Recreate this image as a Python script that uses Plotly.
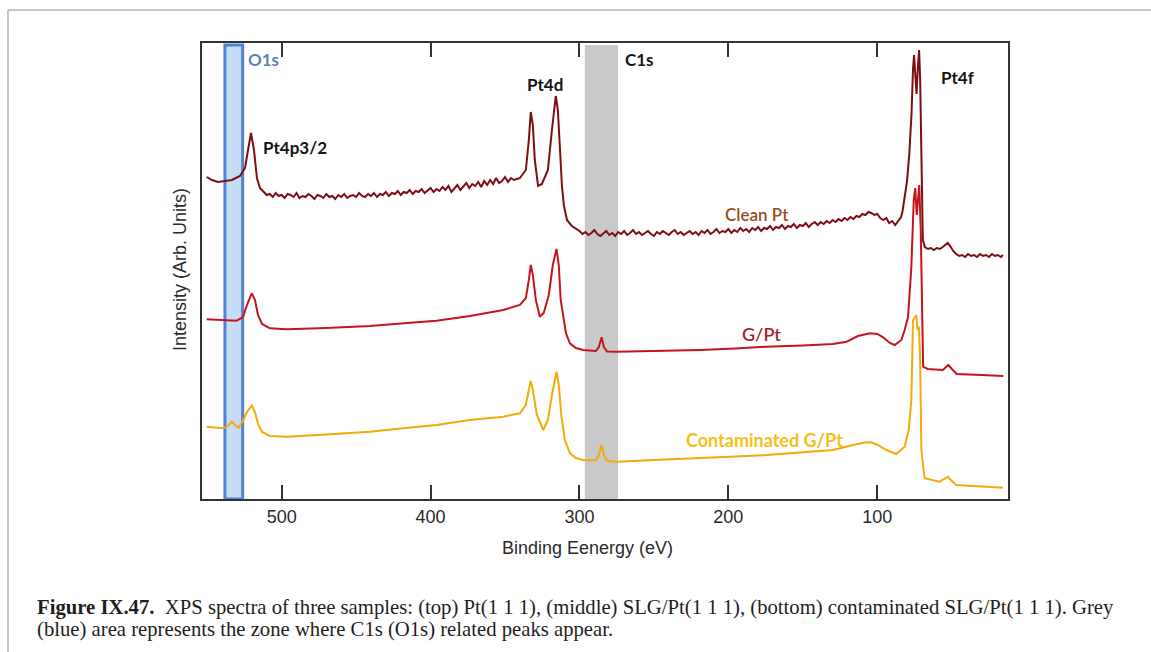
import plotly.graph_objects as go

# ---------------- data ----------------
clean_E = [550.4, 546.8, 542.8, 538.1, 533.4, 528.0, 524.6, 522.6, 520.6, 518.6, 516.6, 514.6,
           512, 510, 508, 506, 504, 502, 500, 498, 496, 494, 492, 490, 488, 486, 484, 482, 480, 478,
           476, 474, 472, 470, 468, 466, 464, 462, 460, 458, 456, 454, 452, 450, 448, 446, 444, 442,
           440, 438, 436, 434, 432, 430, 428, 426, 424, 422, 420, 418, 416, 414, 412, 410, 408, 406,
           404, 402, 400, 398, 396, 394, 392, 390, 388, 386, 384, 382, 380, 378, 376, 374, 372, 370,
           368, 366, 364, 362, 360, 358, 356, 354, 352, 350, 348, 346, 344, 342,
           340, 336, 334, 332.7, 331.3, 330, 327.8, 325.2, 321.2, 318.5, 315.9, 314.5, 313.2, 311.8,
           310.5, 308.4, 305.1, 302,
           300, 298, 296, 294, 292, 290, 288, 286, 284, 282, 280, 278, 276, 274, 272, 270, 268, 266,
           264, 262, 260, 258, 256, 254, 252, 250, 248, 246, 244, 242, 240, 238, 236, 234, 232, 230,
           228, 226, 224, 222, 220, 218, 216, 214, 212, 210, 208, 206, 204, 202, 200, 198, 196, 194,
           192, 190, 188, 186, 184, 182, 180, 178, 176, 174, 172, 170, 168, 166, 164, 162, 160, 158,
           156, 154, 152, 150, 148, 146, 144, 142, 140, 138, 136, 134, 132, 130, 128, 126, 124, 122,
           120, 118, 116, 114, 112, 110, 108, 106, 104, 102, 100, 98, 96, 94, 92, 90, 88, 86, 84, 83,
           81.5, 80, 78.5, 77, 76, 75.3, 74.5, 73.6, 72.8, 71.9, 71.2, 70.3, 69.4,
           68, 66, 64, 62, 60, 58, 56, 54, 52.7, 51, 49, 47, 45, 43, 41, 39, 37, 35, 33, 31, 29, 27,
           25, 23, 21, 19, 17, 15.6]
clean_I = [322, 319, 317, 318, 319, 323, 331, 349, 366, 349, 321, 311,
           307, 304, 305, 302, 306, 303, 304, 301, 305, 304, 302, 306, 301, 303, 302, 305, 303, 300,
           304, 303, 301, 305, 302, 303, 300, 304, 302, 305, 301, 303, 304, 302, 306, 303, 302, 305,
           303, 306, 302, 305, 304, 307, 303, 306, 305, 308, 304, 307, 306, 309, 305, 308, 307, 310,
           306, 309, 311, 307, 310, 308, 312, 309, 313, 307, 311, 314, 309, 313, 316, 311, 315, 313,
           317, 312, 318, 314, 319, 315, 321, 316, 318, 322, 317, 321, 319, 320,
           321, 329, 359, 387, 374, 339, 313, 315, 329, 369, 403, 389, 349, 314,
           294, 279, 273, 270,
           268, 265, 267, 264, 266, 269, 265, 263, 266, 268, 264, 266, 263, 267, 265, 268, 264, 266,
           269, 265, 267, 264, 266, 268, 265, 263, 267, 265, 268, 266, 264, 267, 269, 265, 267, 264,
           266, 268, 265, 267, 264, 268, 266, 269, 265, 267, 270, 266, 268, 267, 270, 266, 269, 267,
           271, 268, 270, 267, 271, 269, 272, 268, 271, 270, 273, 269, 272, 271, 274, 270, 273, 272,
           275, 271, 274, 273, 276, 272, 275, 277, 274, 277, 275, 278, 276, 279, 277, 280, 278, 281,
           279, 282, 280, 283, 282, 285, 284, 287, 286, 284, 285, 281, 279, 281, 276, 278, 274, 278, 282, 288,
           302, 318, 345, 385, 430, 444, 425, 405, 430, 449, 420, 349, 259,
           252, 250, 251, 249, 251, 250, 252, 254, 256, 253, 248, 245, 243, 244, 242, 245, 243, 244,
           242, 245, 243, 244, 242, 245, 243, 244, 242, 244]

gpt_E = [550.4, 540.0, 530.2, 526.0, 523.3, 520.1, 517.9, 515.9, 513.2, 507.9, 496.6, 470.0,
         440.7, 420.0, 396.0, 373.6, 351.2, 340.0, 336.0, 334.0, 332.7, 331.3, 329.3, 326.6, 324.0,
         320.6, 317.9, 315.4, 313.9, 312.6, 311.0, 309.1, 306.4, 302.4, 297.5, 289.0, 287.0, 285.1,
         283.6, 281.5, 275.0, 250.0, 219.1, 195.0, 174.3, 150.0, 129.9, 120.6, 113.0, 105.0, 99.8,
         96.1, 91.6, 88.3, 83.8, 81.6, 79.3, 77.1, 75.5, 74.5, 73.5, 71.8, 70.8, 69.2, 66.1, 56.0,
         52.3, 49.9, 46.7, 30.0, 15.4]
gpt_I = [179.7, 179.0, 178.3, 182, 194, 205.7, 199, 184, 175, 170.7, 169.7, 171,
         173, 175.5, 178.3, 183, 189, 194, 201, 219, 234, 224, 199, 182.3, 186,
         204, 234, 250, 234, 199, 182.3, 166, 155.7, 151, 149, 148, 152, 161.7,
         152, 147.5, 147.3, 148, 149, 150.5, 152.3, 153.5, 155, 157.3, 163, 165.7, 165,
         161.7, 156, 154, 159, 169, 182.3, 232.3, 299, 311, 284, 314, 269, 132.3, 130, 129,
         134, 130, 125, 124, 123]

cont_E = [550.4, 539.2, 536.0, 533.5, 531.3, 529.1, 526.0, 523.3, 520.1, 517.9, 515.9, 513.2,
          507.9, 496.6, 470.0, 440.7, 420.0, 396.0, 373.6, 351.2, 340.0, 336.0, 334.0, 332.7, 331.3,
          328.6, 324.3, 321.2, 318.5, 315.4, 313.9, 312.1, 309.8, 306.4, 302.4, 297.5, 289.0, 287.0,
          285.1, 283.6, 281.5, 275.0, 250.0, 219.1, 195.0, 174.3, 150.0, 129.7, 116.3, 108.4, 103.9,
          99.7, 93.9, 87.2, 81.6, 78.9, 77.1, 76.0, 74.9, 73.8, 72.9, 72.0, 71.2, 70.4, 68.2, 58.1,
          52.5, 50.0, 46.8, 30.0, 15.6]
cont_I = [72.3, 70.7, 73, 77.3, 74, 71.3, 78, 87, 93.3, 87, 75, 67,
          63, 62.3, 64.5, 67.3, 70.5, 74, 79, 82.3, 85.7, 94, 109, 118, 109,
          84, 69, 79, 104, 127.3, 114, 82.3, 59, 45.7, 41, 39, 38.5, 44,
          54, 44, 38.3, 37.3, 39, 40.7, 42.5, 44, 46.5, 49, 54, 56.5, 56.7,
          54, 49, 45, 52.3, 69, 99, 179, 181, 184, 169, 172.3, 139, 49, 20.7, 17.3,
          22.3, 18, 14, 12.5, 11.3]

series_names = ["Clean Pt", "G/Pt", "Contaminated G/Pt"]
x_ticks = [500, 400, 300, 200, 100]
o1s_band = [538.1, 526.2]
c1s_band = [296.4, 274.1]
peak_labels = ["O1s", "Pt4p3/2", "Pt4d", "C1s", "Pt4f"]

# ---------------- layout geometry ----------------
W, H = 1151, 652
L, R, T, B = 202, 1008, 43, 499
X_RANGE = [553.5, 12.2]
Y_RANGE = [0, 456]


def px(x):
    return (x - L) / (R - L)


def py(y):
    return (B - y) / (B - T)


fig = go.Figure()
colors = ["#7d0e12", "#c4151c", "#f3aa0a"]
for name, E, I, c in zip(series_names, [clean_E, gpt_E, cont_E], [clean_I, gpt_I, cont_I], colors):
    fig.add_trace(go.Scatter(x=E, y=I, mode="lines", name=name,
                             line=dict(color=c, width=2), showlegend=False, hoverinfo="skip"))

# shaded zones
fig.add_shape(type="rect", xref="x", yref="y", x0=o1s_band[0], x1=o1s_band[1], y0=0, y1=454,
              fillcolor="#c6dcf3", line=dict(color="#4f82d2", width=3), layer="below")
fig.add_shape(type="rect", xref="x", yref="y", x0=c1s_band[0], x1=c1s_band[1], y0=0, y1=454,
              fillcolor="#c9c9c9", line=dict(width=0), layer="below")

# outer figure frame (cropped at right/bottom)
fig.add_shape(type="line", xref="paper", yref="paper", x0=px(8), x1=px(8), y0=py(10), y1=py(670),
              line=dict(color="#b4b4b4", width=1.5))
fig.add_shape(type="line", xref="paper", yref="paper", x0=px(8), x1=px(1170), y0=py(10), y1=py(10),
              line=dict(color="#b4b4b4", width=1.5))

lab_font = "Lato, 'Open Sans', sans-serif"


def add_label(text, x, y, color, size=17, weight="bold"):
    fig.add_annotation(text=text, xref="paper", yref="paper", x=px(x), y=py(y),
                       xanchor="center", yanchor="middle", showarrow=False,
                       font=dict(family=lab_font, size=size, color=color, weight=weight))


add_label(peak_labels[0], 263, 59, "#5b80b9")
add_label(peak_labels[1], 295, 147, "#141414")
add_label(peak_labels[2], 545, 85, "#141414")
add_label(peak_labels[3], 639, 59, "#141414")
add_label(peak_labels[4], 958, 78, "#141414")
add_label(series_names[0], 757, 214, "#9c4a20", size=17, weight=600)
add_label(series_names[1], 761, 334, "#a8242a", size=18, weight=600)
add_label(series_names[2], 764, 440, "#f4c01c", size=18, weight="bold")

axis_font = dict(family="'Liberation Sans', Arial, sans-serif", size=18, color="#2a2a2a")
fig.add_annotation(text="Binding Eenergy (eV)", xref="paper", yref="paper", x=px(587), y=py(548),
                   xanchor="center", yanchor="middle", showarrow=False, font=axis_font)
fig.add_annotation(text="Intensity (Arb. Units)", xref="paper", yref="paper", x=px(180), y=py(270),
                   xanchor="center", yanchor="middle", showarrow=False, textangle=-90, font=axis_font)

cap_font = dict(family="'Liberation Serif', 'Times New Roman', serif", size=20.7, color="#1e1e1e")
fig.add_annotation(
    text="<b>Figure\u00a0IX.47.</b>\u00a0\u00a0XPS spectra of three samples: (top) Pt(1\u00a01\u00a01), (middle) "
         "SLG/Pt(1\u00a01\u00a01), (bottom) contaminated SLG/Pt(1\u00a01\u00a01). Grey",
    xref="paper", yref="paper", x=px(35), y=py(607), xanchor="left", yanchor="middle",
    showarrow=False, font=cap_font)
fig.add_annotation(
    text="(blue) area represents the zone where C1s (O1s) related peaks appear.",
    xref="paper", yref="paper", x=px(35), y=py(629), xanchor="left", yanchor="middle",
    showarrow=False, font=cap_font)

fig.update_layout(
    width=W, height=H,
    margin=dict(l=L, r=W - R, t=T, b=H - B, pad=0),
    paper_bgcolor="white", plot_bgcolor="white",
    xaxis=dict(range=X_RANGE, tickvals=x_ticks, ticktext=[str(v) for v in x_ticks],
               ticks="inside", ticklen=14, tickwidth=2, tickcolor="#333",
               showline=True, linecolor="#333", linewidth=2, mirror="ticks",
               showgrid=False, zeroline=False, tickfont=axis_font),
    yaxis=dict(range=Y_RANGE, showticklabels=False, ticks="",
               showline=True, linecolor="#333", linewidth=2, mirror=True,
               showgrid=False, zeroline=False),
)

fig.write_html("out.html", config={"displayModeBar": False},
               post_script="document.body.style.margin='0';")
